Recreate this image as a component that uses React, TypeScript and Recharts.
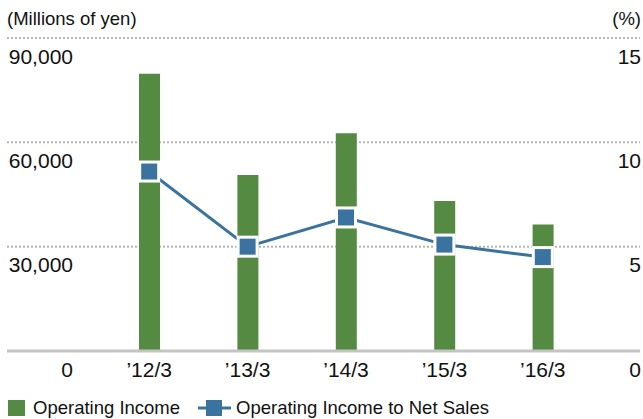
import React from 'react'
import {
  ComposedChart,
  Bar,
  Line,
  XAxis,
  YAxis,
  CartesianGrid,
} from 'recharts'

const categories = ['’12/3', '’13/3', '’14/3', '’15/3', '’16/3']
const operatingIncome = [79700, 50600, 62600, 43100, 36400]
const incomeToSales = [8.6, 5.0, 6.4, 5.1, 4.5]
const leftTicks = [0, 30000, 60000, 90000]
const rightTicks = [0, 5, 10, 15]

const data = categories.map((c, i) => ({
  name: c,
  income: operatingIncome[i],
  ratio: incomeToSales[i],
}))

const FONT = '"Liberation Sans", Arial, sans-serif'
const GREEN = '#558a42'
const BLUE = '#3a72a0'

const SquareDot = (props: any) => {
  const { cx, cy } = props
  if (cx == null || cy == null) return null
  return (
    <rect
      x={cx - 9.5}
      y={cy - 9.5}
      width={19}
      height={19}
      fill={BLUE}
      stroke="#fff"
      strokeWidth={3}
    />
  )
}

const LeftTick = (props: any) => {
  const { y, payload } = props
  return (
    <text
      x={73}
      y={y + 18}
      textAnchor="end"
      dominantBaseline="central"
      fontSize={21}
      fontFamily={FONT}
      fill="#111"
    >
      {Number(payload.value).toLocaleString('en-US')}
    </text>
  )
}

const RightTick = (props: any) => {
  const { y, payload } = props
  return (
    <text
      x={641}
      y={y + 18}
      textAnchor="end"
      dominantBaseline="central"
      fontSize={21}
      fontFamily={FONT}
      fill="#111"
    >
      {payload.value}
    </text>
  )
}

const BottomTick = (props: any) => {
  const { x, payload } = props
  return (
    <text
      x={x}
      y={369}
      textAnchor="middle"
      dominantBaseline="central"
      fontSize={21}
      fontFamily={FONT}
      fill="#111"
    >
      {payload.value}
    </text>
  )
}

export default function App() {
  return (
    <div style={{ position: 'absolute', left: 0, top: 0, width: 643, height: 419, fontFamily: FONT }}>
      <ComposedChart
        width={643}
        height={419}
        data={data}
        margin={{ top: 38, right: 2, bottom: 38, left: 6 }}
      >
        <CartesianGrid
          horizontal
          vertical={false}
          yAxisId="left"
          stroke="#b5b5b5"
          strokeWidth={2}
          strokeDasharray="2 2"
        />
        <XAxis
          dataKey="name"
          height={30}
          padding={{ left: 93, right: 48 }}
          axisLine={{ stroke: '#c4c4c4', strokeWidth: 3 }}
          tickLine={false}
          tick={<BottomTick />}
          interval={0}
        />
        <YAxis
          yAxisId="left"
          domain={[0, 90000]}
          ticks={leftTicks}
          interval={0}
          width={1}
          axisLine={false}
          tickLine={false}
          tick={<LeftTick />}
        />
        <YAxis
          yAxisId="right"
          orientation="right"
          domain={[0, 15]}
          ticks={rightTicks}
          interval={0}
          width={1}
          axisLine={false}
          tickLine={false}
          tick={<RightTick />}
        />
        <Bar
          yAxisId="left"
          dataKey="income"
          fill={GREEN}
          barSize={21}
          isAnimationActive={false}
        />
        <Line
          yAxisId="right"
          dataKey="ratio"
          type="linear"
          stroke={BLUE}
          strokeWidth={3}
          dot={<SquareDot />}
          activeDot={false}
          isAnimationActive={false}
        />
        <text x={7} y={18} dominantBaseline="central" fontSize={18.5} fontFamily={FONT} fill="#111">
          (Millions of yen)
        </text>
        <text x={641} y={18} textAnchor="end" dominantBaseline="central" fontSize={18.5} fontFamily={FONT} fill="#111">
          (%)
        </text>
      </ComposedChart>
      <div style={{ position: 'absolute', left: 8, top: 400, width: 17, height: 16, background: GREEN }} />
      <div
        style={{
          position: 'absolute',
          left: 33,
          top: 398,
          height: 20,
          lineHeight: '20px',
          fontSize: 18.5,
          color: '#111',
          whiteSpace: 'nowrap',
        }}
      >
        Operating Income
      </div>
      <svg width={33} height={20} style={{ position: 'absolute', left: 198, top: 398 }}>
        <line x1={0} y1={10} x2={33} y2={10} stroke={BLUE} strokeWidth={3} />
        <rect x={8} y={2} width={16} height={16} fill={BLUE} />
      </svg>
      <div
        style={{
          position: 'absolute',
          left: 236,
          top: 398,
          height: 20,
          lineHeight: '20px',
          fontSize: 18.5,
          color: '#111',
          whiteSpace: 'nowrap',
        }}
      >
        Operating Income to Net Sales
      </div>
    </div>
  )
}
